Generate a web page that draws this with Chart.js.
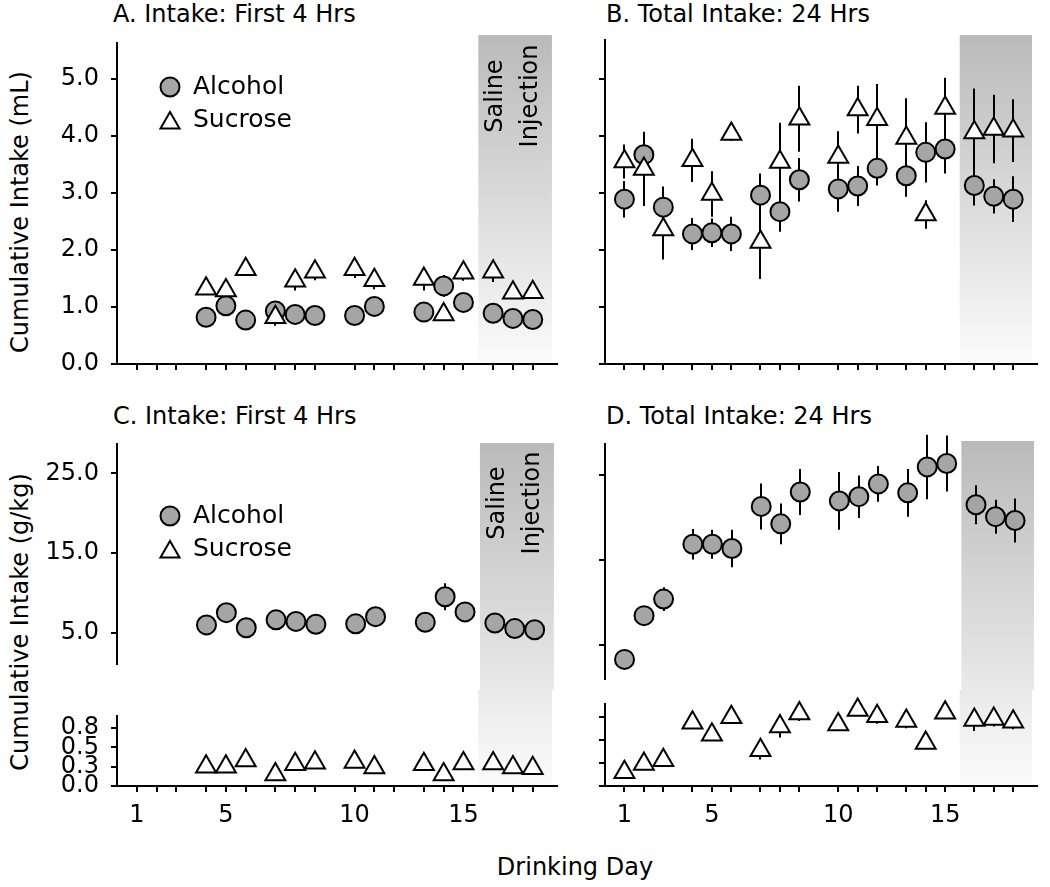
<!DOCTYPE html>
<html>
<head>
<meta charset="utf-8">
<script src="https://cdn.jsdelivr.net/npm/chart.js@4.4.1/dist/chart.umd.min.js"></script>
<style>
  body { margin:0; background:#fff; width:1050px; height:887px; position:relative; overflow:hidden;
         font-family:"DejaVu Sans", sans-serif; color:#000; }
  canvas { position:absolute; }
  .t { position:absolute; font-size:24px; line-height:1; white-space:nowrap; }
  .rot { transform:translate(-50%,-50%) rotate(-90deg); }
</style>
</head>
<body>
<div class="t" style="left:113px;top:2px">A. Intake: First 4 Hrs</div>
<div class="t" style="left:606px;top:2px">B. Total Intake: 24 Hrs</div>
<div class="t" style="left:113px;top:404px">C. Intake: First 4 Hrs</div>
<div class="t" style="left:606px;top:404px">D. Total Intake: 24 Hrs</div>
<div class="t rot" style="left:20px;top:212px">Cumulative Intake (mL)</div>
<div class="t rot" style="left:20px;top:622px">Cumulative Intake (g/kg)</div>
<div class="t" style="left:575px;top:855px;transform:translateX(-50%)">Drinking Day</div>

<canvas id="cA" width="570" height="400" style="left:0;top:0"></canvas>
<canvas id="cB" width="480" height="400" style="left:570px;top:0"></canvas>
<canvas id="cC1" width="570" height="290" style="left:0;top:400px"></canvas>
<canvas id="cC2" width="570" height="197" style="left:0;top:690px"></canvas>
<canvas id="cD1" width="480" height="290" style="left:570px;top:400px"></canvas>
<canvas id="cD2" width="480" height="197" style="left:570px;top:690px"></canvas>

<script>
// ---- data ----
const days      = [1,2,3,4,5,6,7,8,9,10,11,12,13,14,15,16,17,18];
const dayPos    = [1,2,3,4.5,5.5,6.5,8,9,10,12,13,14,15.5,16.5,17.5,19,20,21];
const dayLabels = [1,5,10,15];
const seriesNames = ['Alcohol','Sucrose'];
const salineLines = ['Saline','Injection'];
const salineFrom = 18.25, salineTo = 21.97;

const yTicksMl   = [0,1,2,3,4,5];
const yLabelsMl  = ['0.0','1.0','2.0','3.0','4.0','5.0'];
const yTicksHi   = [5,15,25];
const yLabelsHi  = ['5.0','15.0','25.0'];
const yTicksLo   = [0,0.25,0.5,0.75];
const yLabelsLo  = ['0.0','0.3','0.5','0.8'];

// A: mL, first 4 hrs
const alcA    = [null,null,null,0.82,1.02,0.77,0.93,0.87,0.85,0.85,1.01,null,0.91,1.37,1.08,0.89,0.80,0.78];
const alcAErr = [null,null,null,0.05,0.10,0.05,0.05,0.05,0.05,0.05,0.05,null,0.05,0.19,0.05,0.05,0.05,0.05];
const sucA    = [null,null,null,1.32,1.29,1.66,0.82,1.46,1.62,1.66,1.47,null,1.49,0.87,1.60,1.62,1.25,1.26];
const sucAErr = [null,null,null,0.08,0.12,0.06,0.15,0.17,0.15,0.15,0.16,null,0.20,0.05,0.14,0.18,0.10,0.12];

// B: mL, 24 hrs
const alcB    = [2.89,3.67,2.75,2.28,2.30,2.28,2.96,2.67,3.23,3.07,3.12,3.43,3.30,3.71,3.77,3.13,2.94,2.89];
const alcBErr = [0.32,0.38,0.36,0.28,0.25,0.30,0.38,0.35,0.38,0.40,0.35,0.30,0.37,0.53,0.43,0.35,0.30,0.40];
const sucB    = [3.55,3.42,2.36,3.57,2.98,4.03,2.14,3.54,4.30,3.63,4.46,4.29,3.96,2.62,4.49,4.06,4.12,4.09];
const sucBErr = [0.30,0.65,0.53,0.38,0.40,0.12,0.65,0.69,0.58,0.45,0.42,0.62,0.70,0.25,0.53,0.77,0.60,0.55];

// C: g/kg, first 4 hrs
const alcC    = [null,null,null,5.96,7.5,5.6,6.6,6.4,6.05,6.1,7.0,null,6.3,9.5,7.6,6.2,5.5,5.35];
const alcCErr = [null,null,null,0.3,0.3,0.3,0.3,0.3,0.3,0.3,0.3,null,0.3,1.7,0.3,0.3,0.3,0.3];
const sucC    = [null,null,null,0.25,0.25,0.33,0.15,0.28,0.30,0.31,0.24,null,0.28,0.15,0.29,0.29,0.24,0.23];
const sucCErr = [null,null,null,0.02,0.02,0.02,0.02,0.02,0.02,0.02,0.02,null,0.02,0.02,0.02,0.02,0.02,0.02];

// D: g/kg, 24 hrs
const alcD    = [3.35,8.5,10.45,16.9,16.9,16.4,21.35,19.3,23.05,22.0,22.5,24.0,22.95,26.0,26.4,21.55,20.15,19.7];
const alcDErr = [0.3,0.5,1.4,1.8,1.7,2.2,2.7,2.4,2.7,3.4,2.5,2.1,2.8,3.8,3.3,2.3,2.0,2.6];
const sucD    = [0.15,0.24,0.28,0.69,0.56,0.75,0.39,0.65,0.79,0.67,0.83,0.76,0.71,0.47,0.80,0.72,0.73,0.70];
const sucDErr = [0.02,0.02,0.02,0.04,0.04,0.03,0.10,0.12,0.08,0.04,0.04,0.08,0.08,0.03,0.06,0.12,0.08,0.08];

// ---- styling ----
const FONT = '"DejaVu Sans", sans-serif';
const ALC_FILL = '#a5a5a5';
Chart.defaults.font.family = FONT;
Chart.defaults.font.size = 24;
Chart.defaults.color = '#000';

const axisGrid = { display:true, drawOnChartArea:false, drawTicks:true, tickLength:6, tickWidth:2, tickColor:'#000', color:'#000', lineWidth:2 };
const axisBorder = { display:true, color:'#000', width:2 };

function pts(vals, errs) {
  return vals.map((v, i) => v == null ? null : { x: dayPos[i], y: v, err: errs[i] }).filter(Boolean);
}
function alcSet(vals, errs) {
  return { label: seriesNames[0], data: pts(vals, errs), pointStyle:'circle', pointRadius:9.5,
           backgroundColor: ALC_FILL, borderColor:'#000', borderWidth:2, clip:false };
}
function sucSet(vals, errs) {
  return { label: seriesNames[1], data: pts(vals, errs), pointStyle:'triangle', pointRadius:11.5,
           backgroundColor:'#fff', borderColor:'#000', borderWidth:2, clip:false };
}

function xAxis(showLabels, h) {
  if (h == null) return { type:'linear', min:0, max:22.2, display:false };
  return {
    type:'linear', min:0, max:22.2,
    afterBuildTicks: s => { s.ticks = dayPos.map(v => ({ value: v })); },
    ticks: { display: showLabels, autoSkip:false, maxRotation:0, padding:9,
             callback: (v, i) => dayLabels.includes(days[i]) ? String(days[i]) : '' },
    grid: axisGrid, border: axisBorder,
    afterFit: s => { s.height = h; }
  };
}
function yAxis(min, max, ticks, labels, showLabels, w) {
  return {
    min, max,
    afterBuildTicks: s => { s.ticks = ticks.map(v => ({ value: v })); },
    ticks: { display: showLabels, autoSkip:false, padding:12, callback: (v, i) => labels[i] },
    grid: axisGrid, border: axisBorder,
    afterFit: s => { s.width = w; }
  };
}

// saline shading, drawn with the x scale; gradient given in page y so it runs across split panels
const shadePlugin = {
  id: 'shade',
  beforeDraw(chart, args, o) {
    const { ctx, chartArea, scales: { x } } = chart;
    const x0 = x.getPixelForValue(salineFrom), x1 = x.getPixelForValue(salineTo);
    const top = o.top != null ? o.top - o.canvasTop : chartArea.top;
    const bottom = o.bottom != null ? o.bottom - o.canvasTop : chartArea.bottom;
    const g = ctx.createLinearGradient(0, o.g0 - o.canvasTop, 0, o.g1 - o.canvasTop);
    g.addColorStop(0, '#bababa');
    g.addColorStop(1, '#ffffff');
    ctx.save();
    ctx.fillStyle = g;
    ctx.fillRect(x0, top, x1 - x0, bottom - top);
    if (o.textY != null) {
      ctx.translate((x0 + x1) / 2 - 2, o.textY - o.canvasTop);
      ctx.rotate(-Math.PI / 2);
      ctx.fillStyle = '#000';
      ctx.font = '24px ' + FONT;
      ctx.textAlign = 'center';
      ctx.textBaseline = 'middle';
      ctx.fillText(salineLines[0], 0, -17);
      ctx.fillText(salineLines[1], 0, 18);
    }
    ctx.restore();
  }
};

const errPlugin = {
  id: 'errbars',
  beforeDatasetsDraw(chart) {
    const { ctx, scales: { x, y } } = chart;
    ctx.save();
    ctx.strokeStyle = '#000';
    ctx.lineWidth = 2;
    chart.data.datasets.forEach(ds => ds.data.forEach(p => {
      if (!p.err) return;
      const px = Math.round(x.getPixelForValue(p.x));
      ctx.beginPath();
      ctx.moveTo(px, y.getPixelForValue(p.y - p.err));
      ctx.lineTo(px, y.getPixelForValue(p.y + p.err));
      ctx.stroke();
    }));
    ctx.restore();
  }
};

const legendPlugin = {
  id: 'lgd',
  afterDraw(chart, args, o) {
    if (!o.show) return;
    const { ctx, chartArea } = chart;
    const x = chartArea.left + 53, y0 = chartArea.top + o.dy, y1 = y0 + 36, r = 11;
    ctx.save();
    ctx.lineWidth = 2; ctx.strokeStyle = '#000';
    ctx.beginPath(); ctx.arc(x, y0, 9.5, 0, Math.PI * 2);
    ctx.fillStyle = ALC_FILL; ctx.fill(); ctx.stroke();
    ctx.beginPath();
    ctx.moveTo(x, y1 - r); ctx.lineTo(x + r * 0.866, y1 + r / 2); ctx.lineTo(x - r * 0.866, y1 + r / 2);
    ctx.closePath(); ctx.fillStyle = '#fff'; ctx.fill(); ctx.stroke();
    ctx.fillStyle = '#000'; ctx.font = '25px ' + FONT;
    ctx.textAlign = 'left'; ctx.textBaseline = 'middle';
    ctx.fillText(seriesNames[0], x + 23, y0);
    ctx.fillText(seriesNames[1], x + 23, y1 - 3);
    ctx.restore();
  }
};

function panel(id, datasets, scales, padding, shade, legend) {
  return new Chart(document.getElementById(id), {
    type: 'scatter',
    data: { datasets },
    options: {
      responsive:false, animation:false, events:[],
      layout: { padding },
      scales,
      plugins: { legend:{ display:false }, tooltip:{ enabled:false }, shade, lgd: legend || { show:false } }
    },
    plugins: [shadePlugin, errPlugin, legendPlugin]
  });
}

// A
panel('cA', [sucSet(sucA, sucAErr), alcSet(alcA, alcAErr)],
  { x: xAxis(false, 36), y: yAxis(0, 5.63, yTicksMl, yLabelsMl, true, 117) },
  { top:43, right:8, left:0, bottom:0 },
  { canvasTop:0, top:35, g0:35, g1:385, textY:96 },
  { show:true, dy:44 });

// B
panel('cB', [sucSet(sucB, sucBErr), alcSet(alcB, alcBErr)],
  { x: xAxis(false, 36), y: yAxis(0, 5.68, yTicksMl, yLabelsMl, false, 35) },
  { top:40, right:2, left:0, bottom:0 },
  { canvasTop:0, top:35, g0:35, g1:385 });

// C upper / lower
panel('cC1', [alcSet(alcC, alcCErr)],
  { x: xAxis(false, null), y: yAxis(1.1, 28.7, yTicksHi, yLabelsHi, true, 117) },
  { top:44, right:8, left:0, bottom:7 },
  { canvasTop:400, top:443, bottom:690, g0:443, g1:805, textY:503 },
  { show:true, dy:72 });
panel('cC2', [sucSet(sucC, sucCErr)],
  { x: xAxis(true, 101), y: yAxis(0, 0.9, yTicksLo, yLabelsLo, true, 117) },
  { top:13, right:8, left:0, bottom:0 },
  { canvasTop:690, top:690, g0:443, g1:805 });

// D upper / lower
panel('cD1', [alcSet(alcD, alcDErr)],
  { x: xAxis(false, null), y: yAxis(1.1, 28.7, yTicksHi, yLabelsHi, false, 35) },
  { top:44, right:2, left:0, bottom:7 },
  { canvasTop:400, top:441, bottom:690, g0:441, g1:805 });
panel('cD2', [sucSet(sucD, sucDErr)],
  { x: xAxis(true, 101), y: yAxis(0, 0.9, yTicksLo, yLabelsLo, false, 35) },
  { top:13, right:2, left:0, bottom:0 },
  { canvasTop:690, top:690, g0:441, g1:805 });
</script>
</body>
</html>
